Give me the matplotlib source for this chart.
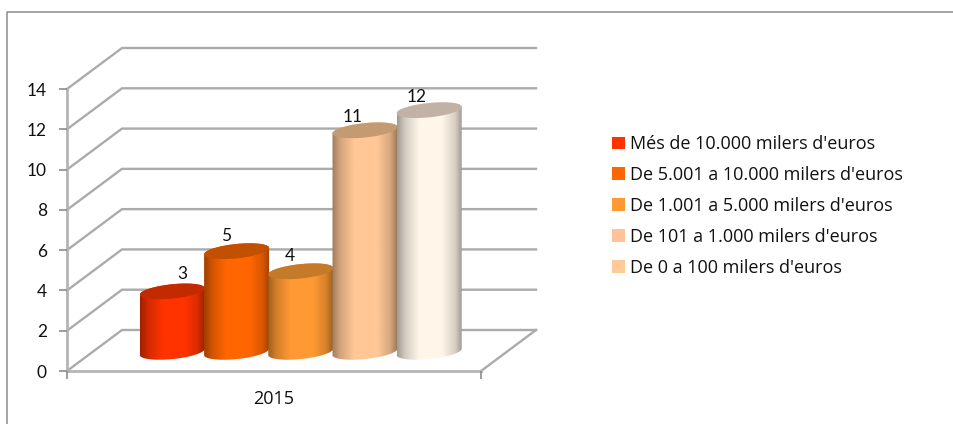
import numpy as np
import matplotlib
matplotlib.use("Agg")
import matplotlib.pyplot as plt
from matplotlib.colors import to_rgb
from matplotlib.lines import Line2D
from matplotlib.patches import Patch
from matplotlib.path import Path

# ---- data ----
categories = ["2015"]
series_names = ["Més de 10.000 milers d'euros", "De 5.001 a 10.000 milers d'euros",
                "De 1.001 a 5.000 milers d'euros", "De 101 a 1.000 milers d'euros",
                "De 0 a 100 milers d'euros"]
series_values = [3, 5, 4, 11, 12]
y_ticks = [0, 2, 4, 6, 8, 10, 12, 14]

# ---- styles ----
legend_colors = ["#FF3300", "#FF6600", "#FF9933", "#FFC299", "#FFCC99"]
body_colors = ["#FF3300", "#FF6600", "#FF9933", "#FFC795", "#FFF6E9"]
top_colors = ["#C42A00", "#C25000", "#C47A28", "#C49A72", "#C2B2A6"]
label_offsets_px = [(10, 17), (-11, 15), (-11, 15), (-12, 13), (-13, 13)]
FONT = "Lato"
WIDE_FONT = "Open Sans"
TEXT = "#111111"
GRID = "#ABABAB"

W, H = 954, 424
fig = plt.figure(figsize=(W / 100, H / 100), dpi=100, facecolor="white")
plt.rcParams["font.family"] = FONT

# outer chart frame: only the top and left edges are inside the picture
fig.add_artist(Line2D([7.5 / W, 7.5 / W, 1], [0, 1 - 11.5 / H, 1 - 11.5 / H],
                      transform=fig.transFigure, color="#8C8C8C", lw=1.1))

L, R, T, B = 67, 481, 89, 371
ax = fig.add_axes([L / W, 1 - B / H, (R - L) / W, (B - T) / H])
ax.set_xlim(0, 1)
ax.set_ylim(0, 14)
ax.patch.set_alpha(0)
px_x = 1 / (R - L)
px_y = 14 / (B - T)
DX = 55 * px_x
DY = 41 * px_y

# walls: gridlines run along the side wall, then along the back wall
for v in y_ticks:
    ax.plot([0, DX, 1 + DX], [v, v + DY, v + DY], color=GRID, lw=1.7, clip_on=False,
            zorder=1, solid_joinstyle="miter")
# floor right edge
ax.plot([1, 1 + DX], [0, DY], color=GRID, lw=1.7, clip_on=False, zorder=1)

for s in ("top", "right"):
    ax.spines[s].set_visible(False)
for s in ("left", "bottom"):
    ax.spines[s].set_color("#B4B4B4")
    ax.spines[s].set_linewidth(2.0)
    ax.spines[s].set_zorder(2)
ax.set_yticks(y_ticks)
ax.set_xticks([0, 1], labels=["", ""])
ax.set_xticks([0.5], labels=categories, minor=True)
ax.tick_params(axis="y", length=6, width=1.2, color="#8C8C8C", labelsize=12.5, pad=8.5,
               labelcolor=TEXT)
ax.tick_params(axis="x", which="major", length=6, width=1.2, color="#8C8C8C")
ax.tick_params(axis="x", which="minor", length=0, labelsize=13, pad=13.5, labelcolor=TEXT)
for lab in ax.get_xticklabels(minor=True):
    lab.set_family(WIDE_FONT)
ax.set_axisbelow(False)

# cylinders
bar_w = 64.2 * px_x
half = 32.5 * px_x
b = 7.2 * px_y
tilt = 3.2 * px_y
base = 0.95
n = len(series_values)
stops_x = [0, 0.12, 0.34, 0.70, 0.90, 1]
stops_f = [0.62, 0.82, 1.0, 1.0, 0.84, 0.62]

def rim(cx, cy, t):
    return np.column_stack([cx + half * np.cos(t), cy + b * np.sin(t) + tilt * np.cos(t)])

for i, (v, bc, tc) in enumerate(zip(series_values, body_colors, top_colors)):
    cx = 0.5 + DX / 2 - 0.7 * px_x + (i - (n - 1) / 2) * bar_w
    top = base + v
    lower = rim(cx, base, np.linspace(np.pi, 2 * np.pi, 60))
    upper = rim(cx, top, np.linspace(0, np.pi, 60))
    path = Path(np.vstack([lower, upper, lower[:1]]), closed=True)
    xs = np.linspace(0, 1, 256)
    shade = np.interp(xs, stops_x, stops_f)
    grad = np.outer(shade, to_rgb(bc)).reshape(1, 256, 3)
    im = ax.imshow(grad, extent=[cx - half, cx + half, base - 1, top + 1], aspect="auto",
                   zorder=3 + i, interpolation="bilinear")
    im.set_clip_path(path, ax.transData)
    cap = rim(cx, top, np.linspace(0, 2 * np.pi, 120))
    ax.fill(cap[:, 0], cap[:, 1], color=tc, lw=0, zorder=3 + i)
    ox, oy = label_offsets_px[i]
    ax.annotate(str(v), (cx, top), xytext=(ox * 0.72, oy * 0.72), textcoords="offset points",
                ha="center", va="center", fontsize=12.5, color=TEXT, zorder=20, family=FONT)
ax.set_xlim(0, 1)
ax.set_ylim(0, 14)

handles = [Patch(fc=c, ec="none") for c in legend_colors]
fig.legend(handles, series_names, loc="center left", bbox_to_anchor=(612 / W, 1 - 206 / H),
           frameon=False, handlelength=0.72, handleheight=0.72, handletextpad=0.28,
           labelspacing=0.71, borderpad=0, borderaxespad=0, labelcolor=TEXT,
           prop={"family": WIDE_FONT, "size": 13})

fig.savefig("out.png", dpi=100)
